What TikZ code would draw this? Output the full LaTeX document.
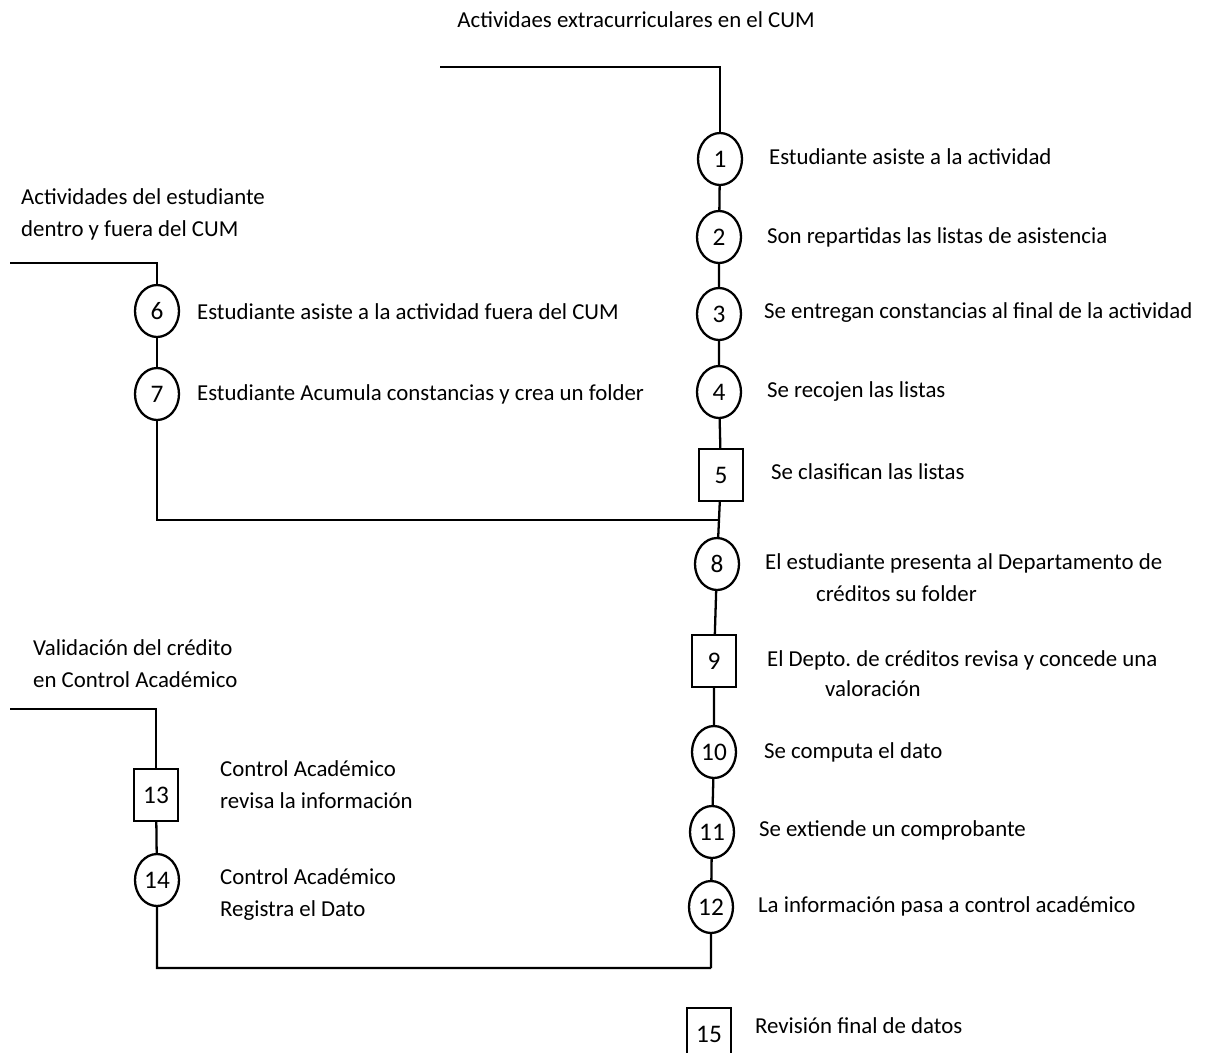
\documentclass[tikz,border=0pt]{standalone}
\usepackage{fontspec}
\setmainfont{Carlito}
\usetikzlibrary{shapes.geometric}

\tikzset{
	paso/.style={ellipse, draw, line width=1.3pt, minimum width=0.88cm, minimum height=1.04cm, inner sep=0pt, font=\Large},
	caja/.style={rectangle, draw, line width=1.3pt, minimum width=0.88cm, minimum height=1.04cm, inner sep=0pt, font=\Large},
	texto/.style={anchor=west, inner sep=0pt, align=left, font=\fontsize{13}{18.2}\selectfont},
}

\begin{document}
\frenchspacing
\begin{tikzpicture}[x=0.02cm, y=-0.02cm, line width=1.3pt]
	\useasboundingbox (0,0) rectangle (1214,1052);
	\coordinate (s1) at (440,67);
	\coordinate (s2) at (10,263);
	\coordinate (s3) at (10,709);
	\coordinate (j1) at (718,520);
	\coordinate (j2) at (711,968);

	\foreach \n/\x/\y in {1/720/159, 2/719/237, 3/719/314, 4/719/392, 8/717/564,
		10/714/752, 11/712/832, 12/711/907, 6/157/311, 7/157/394, 14/157/880}{%
		\node[paso] (n\n) at (\x,\y) {\n};
	}
	\foreach \n/\x/\y in {5/721/475, 9/714/661, 13/156/795, 15/709/1034}{%
		\node[caja] (n\n) at (\x,\y) {\n};
	}

	% main column
	\draw (s1) -| (n1);
	\draw (n1) -- (n2) -- (n3) -- (n4) -- (n5) -- (n8) -- (n9) -- (n10) -- (n11) -- (n12) -- (j2);
	% left branches
	\draw (s2) -| (n6);
	\draw (n6) -- (n7) |- (j1);
	\draw (s3) -| (n13);
	\draw (n13) -- (n14) |- (j2);

	% titles
	\node[texto, anchor=center] (titulo) at (636,20) {Actividaes extracurriculares en el CUM};
	\node[texto] (tb1) at (20,214) {Actividades del estudiante\\dentro y fuera del CUM};
	\node[texto] (tb2) at (32,664) {Validación del crédito\\en Control Académico};

	% labels
	\node[texto] (t1) at (768,157) {Estudiante asiste a la actividad};
	\node[texto] (t2) at (766,237) {Son repartidas las listas de asistencia};
	\node[texto] (t3) at (763,313) {Se entregan constancias al final de la actividad};
	\node[texto] (t4) at (766,392) {Se recojen las listas};
	\node[texto] (t5) at (770,472) {Se clasifican las listas};
	\node[texto] (t8) at (764,563) {El estudiante presenta al Departamento de};
	\node[texto] (t8b) at (815,594) {créditos su folder};
	\node[texto] (t9) at (766,660) {El Depto. de créditos revisa y concede una};
	\node[texto] (t9b) at (824,689) {valoración};
	\node[texto] (t10) at (763,752) {Se computa el dato};
	\node[texto] (t11) at (758,830) {Se extiende un comprobante};
	\node[texto] (t12) at (757,906) {La información pasa a control académico};
	\node[texto] (t15) at (754,1026) {Revisión final de datos};
	\node[texto] (t6) at (196,312) {Estudiante asiste a la actividad fuera del CUM};
	\node[texto] (t7) at (196,394) {Estudiante Acumula constancias y crea un folder};
	\node[texto] (t13) at (219,785) {Control Académico\\revisa la información};
	\node[texto] (t14) at (219,895) {Control Académico\\Registra el Dato};
\end{tikzpicture}
\end{document}
